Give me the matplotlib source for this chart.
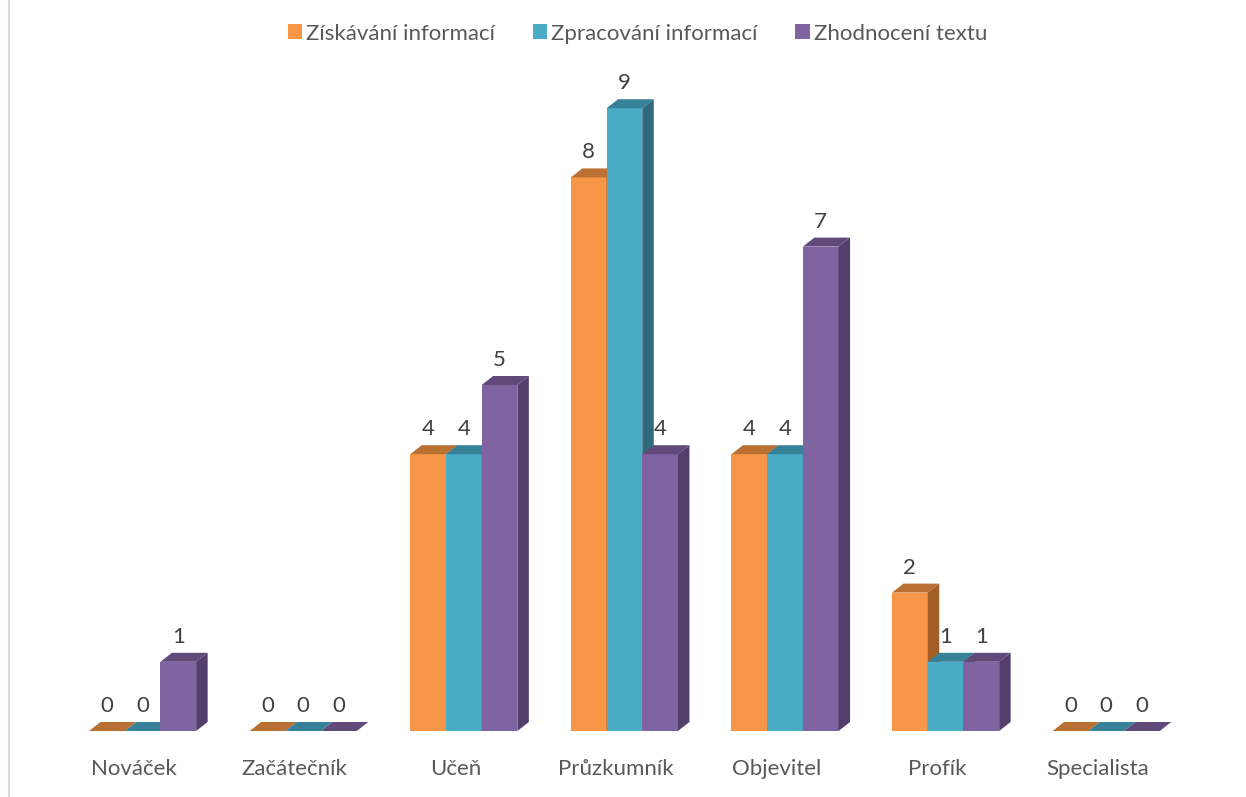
"""Three-series bar chart with a fake 3D extrusion, drawn on a plain 2D axes."""
import numpy as np
import matplotlib
matplotlib.use("Agg")
import matplotlib.pyplot as plt
from matplotlib.lines import Line2D

categories = ["Nováček", "Začátečník", "Učeň", "Průzkumník", "Objevitel", "Profík", "Specialista"]
series_names = ["Získávání informací", "Zpracování informací", "Zhodnocení textu"]
ziskavani = [0, 0, 4, 8, 4, 2, 0]
zpracovani = [0, 0, 4, 9, 4, 1, 0]
zhodnoceni = [1, 0, 5, 4, 7, 1, 0]

front_colors = ["#F79646", "#4BACC6", "#8064A2"]
top_colors = ["#B97032", "#388299", "#604A7B"]
side_colors = ["#A45F26", "#2F6B7D", "#533F6C"]

W, H = 1246, 797
BASE_PX = 731          # pixel row of value 0
PX_PER_VAL = 69.2
PX_PER_CAT = 160.6
CAT0_PX = 142.6
BAR_W = 35.7 / PX_PER_CAT
DX = 11.5 / PX_PER_CAT  # depth of the extrusion, in data units
DY = 9 / PX_PER_VAL

plt.rcParams["font.family"] = ["Lato", "DejaVu Sans"]

fig = plt.figure(figsize=(W / 100, H / 100), dpi=100)
ax = fig.add_axes([0, (H - BASE_PX) / H, 1, BASE_PX / H])
ax.set_xlim(-CAT0_PX / PX_PER_CAT, (W - CAT0_PX) / PX_PER_CAT)
ax.set_ylim(0, BASE_PX / PX_PER_VAL)

x = np.arange(len(categories))
handles = []
for s, vals in enumerate([ziskavani, zpracovani, zhodnoceni]):
    xs = x + (s - 1) * BAR_W
    bars = ax.bar(xs, vals, BAR_W, color=front_colors[s], edgecolor="none",
                  label=series_names[s], zorder=2 + s)
    handles.append(bars)
    for xc, v in zip(xs, vals):
        l, r = xc - BAR_W / 2, xc + BAR_W / 2
        # top face, then right face
        ax.fill([l, r, r + DX, l + DX], [v, v, v + DY, v + DY],
                color=top_colors[s], lw=0, zorder=2 + s)
        if v > 0:
            ax.fill([r, r + DX, r + DX, r], [0, DY, v + DY, v],
                    color=side_colors[s], lw=0, zorder=2 + s)
        ax.annotate(str(v), (xc, v), xytext=(0, 25 * 0.72), textcoords="offset points",
                    ha="center", va="center", fontsize=16, color="#404040", zorder=6)

for side in ax.spines.values():
    side.set_visible(False)
ax.set_yticks([])
ax.set_xticks(x - 8.5 / PX_PER_CAT, categories)
ax.tick_params(axis="x", length=0, pad=20, labelsize=16, labelcolor="#595959")

ax.legend(handles=handles, loc="center", bbox_to_anchor=(637.5 / W, 1 - 33.5 / BASE_PX),
          ncol=3, frameon=False, fontsize=16, labelcolor="#595959",
          handlelength=0.64, handleheight=0.64, handletextpad=0.2, columnspacing=1.69)

fig.add_artist(Line2D([8.5 / W, 8.5 / W], [0, 1], color="#D9D9D9", lw=1.5))

fig.savefig("out.png", dpi=100)
